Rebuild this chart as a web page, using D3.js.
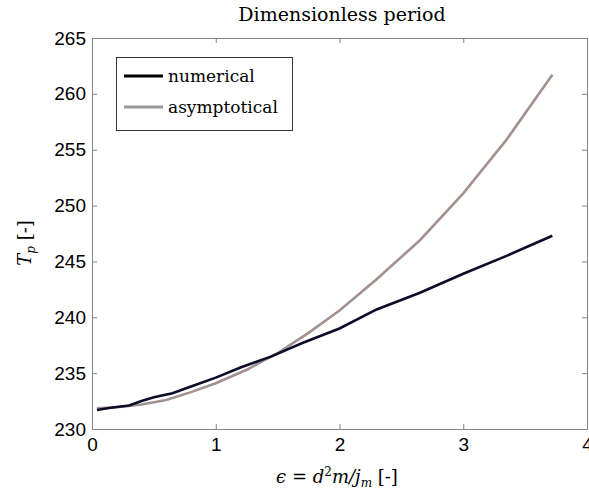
<!DOCTYPE html>
<html>
<head>
<meta charset="utf-8">
<script src="https://cdn.jsdelivr.net/npm/d3@7"></script>
<style>
body { margin: 0; background: #fff; }
.tick text { font-family: "Liberation Sans", Arial, sans-serif; font-size: 19px; fill: #000; }
.serif { font-family: "DejaVu Serif", "Liberation Serif", serif; fill: #000; }
</style>
</head>
<body>
<svg width="589" height="494"></svg>
<script>
// **** Data ****

var xTicks = [0, 1, 2, 3, 4];
var yTicks = [230, 235, 240, 245, 250, 255, 260, 265];

var numEps = [0.04, 0.15, 0.3, 0.4, 0.5, 0.65, 0.8, 1.0, 1.2, 1.45, 1.7, 2.0, 2.3, 2.65, 3.0, 3.35, 3.72];
var numT   = [231.7, 231.9, 232.1, 232.5, 232.85, 233.2, 233.8, 234.6, 235.5, 236.5, 237.7, 239.0, 240.7, 242.2, 243.9, 245.5, 247.3];

var asyEps = [0.04, 0.2, 0.4, 0.6, 0.8, 1.0, 1.25, 1.5, 1.75, 2.0, 2.3, 2.65, 3.0, 3.35, 3.72];
var asyT   = [231.85, 231.95, 232.2, 232.6, 233.3, 234.1, 235.3, 236.8, 238.6, 240.6, 243.4, 246.9, 251.1, 255.9, 261.7];

var seriesNames = ['numerical', 'asymptotical'];

// **** Scales and axes ****

var plotL = 92, plotR = 587, plotT = 38, plotB = 429;

var xScale = d3.scaleLinear().domain([0, 4]).range([plotL, plotR]);
var yScale = d3.scaleLinear().domain([230, 265]).range([plotB, plotT]);

var svg = d3.select('svg');
var axisColor = '#858585';

// ticks pointing inward on all four sides
svg.append('g').attr('transform', 'translate(0,' + plotB + ')')
    .call(d3.axisBottom(xScale).tickValues(xTicks).tickSizeInner(-5).tickSizeOuter(0).tickPadding(9).tickFormat(d3.format('d')));
svg.append('g').attr('transform', 'translate(0,' + plotT + ')')
    .call(d3.axisTop(xScale).tickValues(xTicks).tickSizeInner(-5).tickSizeOuter(0).tickFormat(''));
svg.append('g').attr('transform', 'translate(' + plotL + ',0)')
    .call(d3.axisLeft(yScale).tickValues(yTicks).tickSizeInner(-5).tickSizeOuter(0).tickPadding(6));
svg.append('g').attr('transform', 'translate(' + plotR + ',0)')
    .call(d3.axisRight(yScale).tickValues(yTicks).tickSizeInner(-5).tickSizeOuter(0).tickFormat(''));

svg.selectAll('.domain').attr('stroke', axisColor);
svg.selectAll('.tick line').attr('stroke', axisColor);

// **** Lines ****

var line = d3.line()
    .x(function(d){ return xScale(d[0]); })
    .y(function(d){ return yScale(d[1]); });

svg.append('path')
    .datum(asyEps.map(function(e, i){ return [e, asyT[i]]; }))
    .attr('d', line)
    .attr('fill', 'none')
    .attr('stroke', '#a39191')
    .attr('stroke-width', 2.6);

svg.append('path')
    .datum(numEps.map(function(e, i){ return [e, numT[i]]; }))
    .attr('d', line)
    .attr('fill', 'none')
    .attr('stroke', '#0c0c2a')
    .attr('stroke-width', 2.6);

// **** Legend ****

var legend = svg.append('g');
legend.append('rect')
    .attr('x', 116.5).attr('y', 57.5).attr('width', 176).attr('height', 73)
    .attr('fill', '#fff').attr('stroke', '#333').attr('stroke-width', 1);

var legendColors = ['#000', '#999'];
seriesNames.forEach(function(name, i){
    var y = 76 + i * 31;
    legend.append('line')
        .attr('x1', 124).attr('x2', 163).attr('y1', y).attr('y2', y)
        .attr('stroke', legendColors[i]).attr('stroke-width', 3);
    legend.append('text')
        .attr('class', 'serif')
        .attr('x', 168).attr('y', y + 6)
        .style('font-size', '17px')
        .text(name);
});

// **** Titles ****

svg.append('text')
    .attr('class', 'serif')
    .attr('x', 342).attr('y', 21)
    .attr('text-anchor', 'middle')
    .style('font-size', '19px')
    .text('Dimensionless period');

var xl = svg.append('text')
    .attr('class', 'serif')
    .attr('x', 337).attr('y', 483)
    .attr('text-anchor', 'middle')
    .style('font-size', '18px');
xl.append('tspan').style('font-style', 'italic').text('ϵ');
xl.append('tspan').text(' = ');
xl.append('tspan').style('font-style', 'italic').text('d');
xl.append('tspan').attr('dy', -7).style('font-size', '12px').text('2');
xl.append('tspan').attr('dy', 7).style('font-style', 'italic').text('m/j');
xl.append('tspan').attr('dy', 4).style('font-size', '12px').style('font-style', 'italic').text('m');
xl.append('tspan').attr('dy', -4).text(' [-]');

var yl = svg.append('text')
    .attr('class', 'serif')
    .attr('transform', 'translate(31,243) rotate(-90)')
    .attr('text-anchor', 'middle')
    .style('font-size', '18px');
yl.append('tspan').style('font-style', 'italic').text('T');
yl.append('tspan').attr('dy', 4).style('font-size', '12px').style('font-style', 'italic').text('p');
yl.append('tspan').attr('dy', -4).text(' [-]');
</script>
</body>
</html>
